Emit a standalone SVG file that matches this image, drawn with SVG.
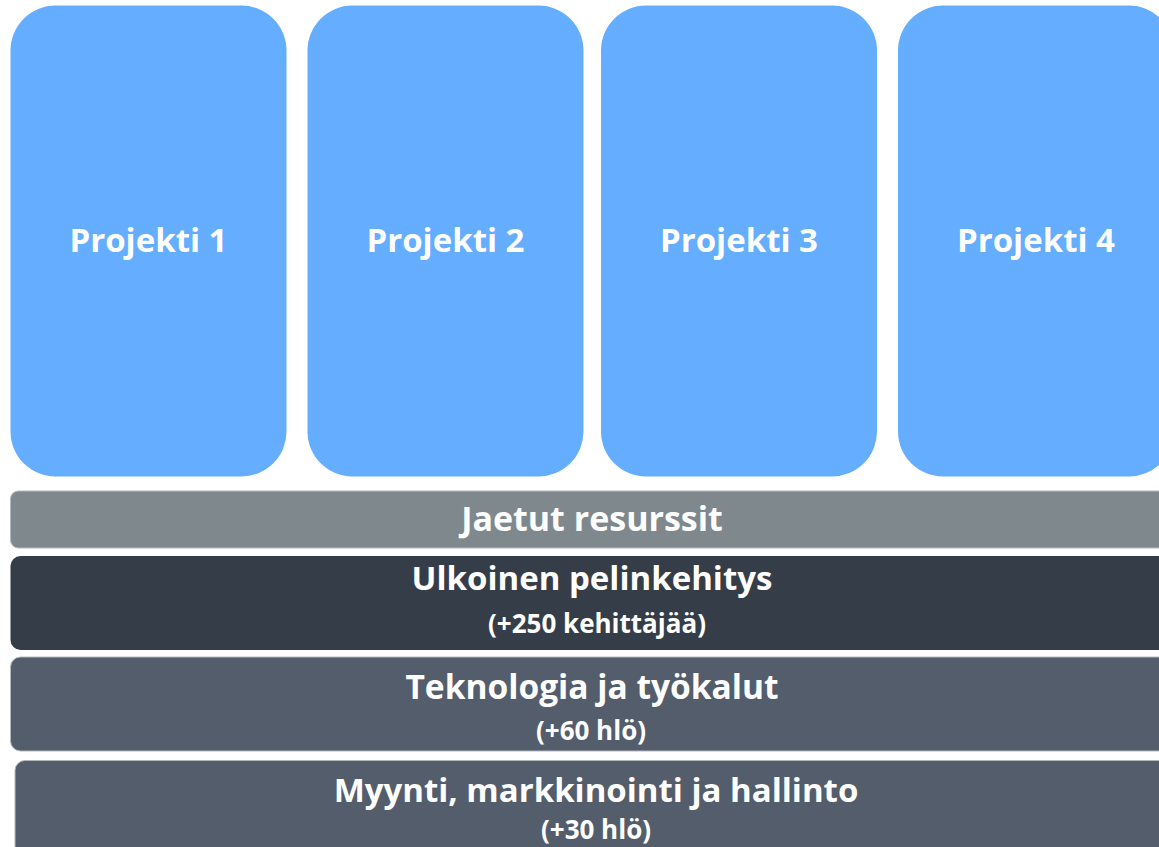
<svg xmlns="http://www.w3.org/2000/svg" width="1159" height="847" viewBox="0 0 1159 847">
<style>
.proj{fill:#64adff}
.t{font-family:"Open Sans","Liberation Sans",sans-serif;font-weight:700;fill:#ffffff;text-anchor:middle;font-variant-ligatures:none}
.pt{font-size:33px}
.main{font-size:33px}
.sub{font-size:26px}
.bar{stroke:#b4b9bd;stroke-width:1}
</style>
<rect width="1159" height="847" fill="#ffffff"/>
<g id="projekti1"><rect class="proj" x="10.5" y="5.5" width="276" height="471" rx="45"/><text class="t pt" x="148.5" y="252">Projekti 1</text></g>
<g id="projekti2"><rect class="proj" x="307.5" y="5.5" width="276" height="471" rx="45"/><text class="t pt" x="445.5" y="252">Projekti 2</text></g>
<g id="projekti3"><rect class="proj" x="601" y="5.5" width="276" height="471" rx="45"/><text class="t pt" x="739" y="252">Projekti 3</text></g>
<g id="projekti4"><rect class="proj" x="898" y="5.5" width="276" height="471" rx="45"/><text class="t pt" x="1036" y="252">Projekti 4</text></g>
<g id="jaetut"><rect class="bar" x="10.5" y="491" width="1170" height="57" rx="8" fill="#7e888d"/><text class="t main" x="592" y="531" style="font-size:34px">Jaetut resurssit</text></g>
<g id="ulkoinen"><rect x="10.5" y="556" width="1170" height="94" rx="10" fill="#343d48"/><text class="t main" x="592" y="590">Ulkoinen pelinkehitys</text><text class="t sub" x="597" y="633">(+250 kehittäjää)</text></g>
<g id="teknologia"><rect class="bar" x="10.5" y="657" width="1170" height="94" rx="10" fill="#535d6b"/><text class="t main" x="592" y="699" style="font-size:33.5px">Teknologia ja työkalut</text><text class="t sub" x="591" y="740">(+60 hlö)</text></g>
<g id="myynti"><rect class="bar" x="15" y="760.5" width="1170" height="110" rx="10" fill="#535d6b"/><text class="t main" x="596" y="802">Myynti, markkinointi ja hallinto</text><text class="t sub" x="596" y="839">(+30 hlö)</text></g>
<g id="connectors"/>
</svg>
